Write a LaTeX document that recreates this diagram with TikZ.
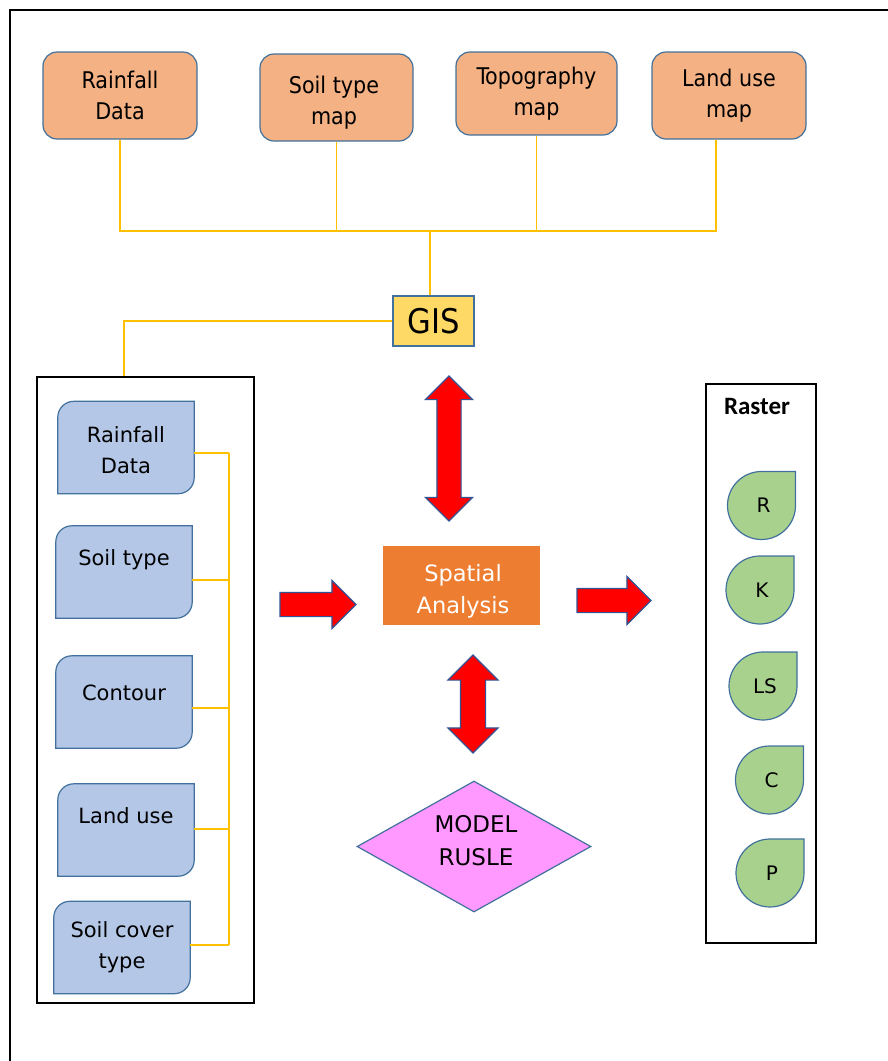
\documentclass[tikz,border=0pt]{standalone}
\usepackage{fontspec}
\setmainfont{DejaVu Sans}
\newfontfamily\condfont{DejaVu Sans Condensed}
\newfontfamily\titlefont{Carlito}
\usetikzlibrary{shapes.geometric,shapes.arrows}

\definecolor{boxline}{HTML}{41719C}
\definecolor{mapfill}{HTML}{F4B183}
\definecolor{gisfill}{HTML}{FFD966}
\definecolor{layerfill}{HTML}{B4C7E7}
\definecolor{linkcol}{HTML}{FFC000}
\definecolor{spatialfill}{HTML}{ED7D31}
\definecolor{modelfill}{HTML}{FF99FF}
\definecolor{dropfill}{HTML}{A9D18E}
\definecolor{arrowline}{HTML}{2F5597}

\tikzset{
  framebox/.style={draw=black, line width=1.5pt, inner sep=0pt},
  mapbox/.style={draw=boxline, fill=mapfill, line width=1.2pt, rounded corners=14pt, align=center, inner sep=0pt, font=\condfont\fontsize{23}{31}\selectfont},
  gisbox/.style={draw=boxline, fill=gisfill, line width=1.2pt, minimum width=81pt, minimum height=50pt, inner sep=0pt, font=\condfont\fontsize{34}{36}\selectfont},
  layerbox/.style={minimum width=136pt, minimum height=92pt, inner sep=0pt},
  layershape/.style={draw=boxline, fill=layerfill, line width=1.2pt},
  layertext/.style={align=center, font=\fontsize{21}{31}\selectfont},
  dropshape/.style={draw=boxline, fill=dropfill, line width=1.2pt},
  droptext/.style={font=\fontsize{20}{22}\selectfont},
  redarrow/.style={draw=arrowline, fill=red, line width=1.2pt, inner xsep=0pt},
  link/.style={draw=linkcol, line width=1.5pt},
}

\begin{document}
\begin{tikzpicture}[x=1pt,y=-1pt]
  \useasboundingbox (0,0) rectangle (888,1061);
  \draw[framebox] (10,10) rectangle (900,1075);

  % Source maps
  \node(rainmap) [mapbox, minimum width=154pt, minimum height=87pt] at (120,95.5) {Rainfall\\Data};
  \node(soilmap) [mapbox, minimum width=153pt, minimum height=87pt] at (336.5,97.5) {};
  \node [mapbox, draw=none, fill=none] at (334,102.5) {Soil type\\map};
  \node(topomap) [mapbox, minimum width=161pt, minimum height=83pt] at (536.5,93.5) {Topography\\map};
  \node(landmap) [mapbox, minimum width=154pt, minimum height=87pt] at (729,95.5) {Land use\\map};

  % GIS
  \node(gis) [gisbox] at (433.5,321) {GIS};

  % Input layers
  \node(inputs) [framebox, minimum width=217pt, minimum height=626pt] at (145.5,690) {};
  \foreach \n/\x/\y/\dy/\t in {rainlayer/126/447.5/2.5/{Rainfall\\Data}, soillayer/124/572/-12/{Soil type},
      contour/124/702/-9/{Contour}, landlayer/126/830/-14/{Land use}, coverlayer/122/947.5/0/{Soil cover\\type}} {
    \node(\n) [layerbox] at (\x,\y) {};
    \draw[layershape] (\n.south west) [rounded corners=16pt] -- (\n.north west) [sharp corners] -- (\n.north east)
      [rounded corners=16pt] -- (\n.south east) [sharp corners] -- cycle;
    \node [layertext] at (\x,\y+\dy) {\t};
  }

  % Analysis and model
  \node(spatial) [fill=spatialfill, minimum width=157pt, minimum height=79pt] at (461.5,585.5) {};
  \node [text=white, align=center, font=\fontsize{22.5}{32}\selectfont] at (463,591) {Spatial\\Analysis};
  \node(model) [diamond, draw=boxline, fill=modelfill, line width=1.2pt, minimum width=234pt, minimum height=131pt,
    inner sep=0pt] at (474,846.5) {};
  \node [align=center, font=\fontsize{23}{33}\selectfont] at (476,841) {MODEL\\RUSLE};

  % Raster factors
  \node(raster) [framebox, minimum width=110pt, minimum height=559pt] at (761,663.5) {};
  \node(rastertitle) [font=\titlefont\bfseries\fontsize{25}{27}\selectfont] at (757,406) {Raster};
  \foreach \n/\x/\y/\t in {rfac/761.5/505.5/R, kfac/760/590/K, lsfac/763/686/LS, cfac/769.5/780/C, pfac/770/873/P} {
    \draw[dropshape] (\x+34,\y-34) [rounded corners=34pt] -- (\x+34,\y+34) -- (\x-34,\y+34) -- (\x-34,\y-34)
      [sharp corners] -- cycle;
    \node(\n) [droptext] at (\x+2,\y) {\t};
  }

  % Block arrows
  \node(gisarrow) [redarrow, double arrow, rotate=90, minimum height=145pt, inner ysep=11.5pt,
    double arrow head extend=11.5pt] at (449,448.5) {};
  \node(modelarrow) [redarrow, double arrow, rotate=90, minimum height=98pt, inner ysep=12pt,
    double arrow head extend=12.5pt] at (473,704) {};
  \node(inarrow) [redarrow, single arrow, minimum height=76pt, inner ysep=11.5pt,
    single arrow head extend=12pt] at (312,604.5) {};
  \node(outarrow) [redarrow, single arrow, minimum height=74pt, inner ysep=11.5pt,
    single arrow head extend=12pt] at (608,600.5) {};

  % Edges
  \coordinate (bus) at (430,231);
  \draw[link] (rainmap.south) |- (bus);
  \draw[link] (soilmap.south) |- (bus);
  \draw[link] (topomap.south) |- (bus);
  \draw[link] ([xshift=-13pt]landmap.south) |- (bus);
  \draw[link] (bus) -- (bus |- gis.north);
  \draw[link] (gis.west) -| ([xshift=-21.5pt]inputs.north);
  \coordinate (layerbus) at (229,0);
  \foreach \n/\o in {rainlayer/-5.5, soillayer/-8, contour/-6, landlayer/1, coverlayer/2.5}
    \draw[link] ([yshift=\o pt]\n.east) -- ([yshift=\o pt]\n.east -| layerbus);
  \draw[link] ([yshift=-5.5pt]rainlayer.east -| layerbus) -- ([yshift=2.5pt]coverlayer.east -| layerbus);
\end{tikzpicture}
\end{document}
